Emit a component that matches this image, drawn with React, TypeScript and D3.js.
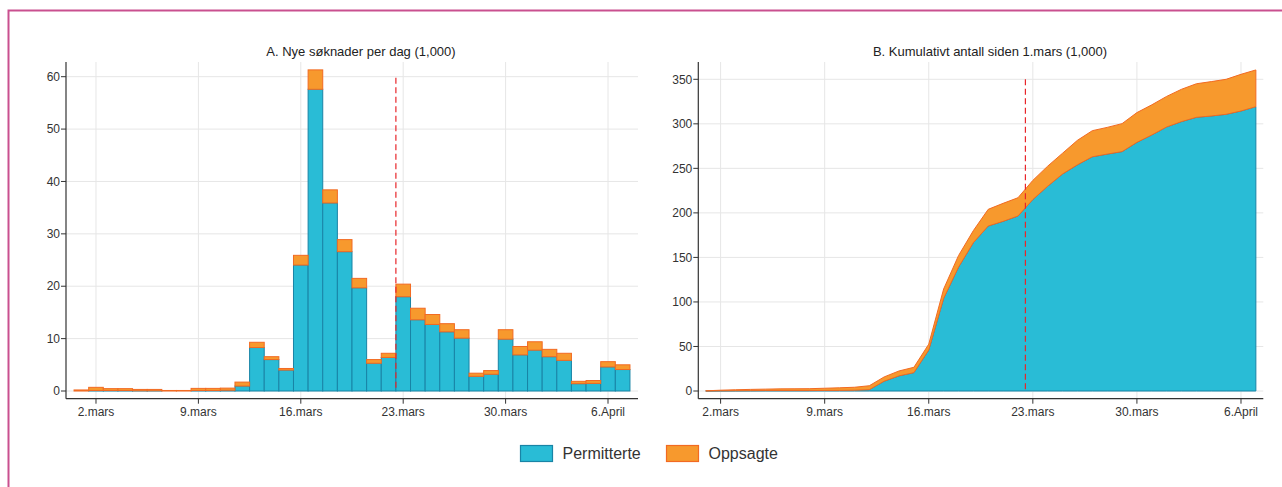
import React from 'react';
import * as d3 from 'd3';

// dager fra 1. mars til 7. april
const days: Date[] = d3.timeDay.range(new Date(2020, 2, 1), new Date(2020, 3, 8));

// A. nye søknader per dag (1,000)
const dailyPermitterte = [
  0, 0.1, 0.1, 0.1, 0.05, 0.05, 0, 0, 0.1, 0.1, 0.15, 0.95, 8.3, 6.0, 4.0, 24.05, 57.6, 35.9, 26.6,
  19.7, 5.3, 6.4, 18.0, 13.6, 12.7, 11.3, 10.1, 2.8, 3.2, 9.9, 6.9, 7.8, 6.55, 5.85, 1.4, 1.45, 4.6, 4.1,
];
const dailyOppsagte = [
  0.2, 0.6, 0.35, 0.35, 0.25, 0.25, 0.1, 0.1, 0.4, 0.4, 0.4, 0.75, 1.0, 0.55, 0.3, 1.85, 3.7, 2.5, 2.3,
  1.8, 0.7, 0.8, 2.4, 2.2, 1.9, 1.55, 1.6, 0.6, 0.7, 1.8, 1.6, 1.6, 1.4, 1.35, 0.45, 0.55, 1.0, 0.9,
];

// B. kumulativt antall siden 1. mars (1,000)
const cumPermitterte = [
  0, 0.2, 0.3, 0.4, 0.5, 0.5, 0.5, 0.5, 0.6, 0.7, 0.9, 1.5, 11, 17, 20.6, 46, 104, 139, 166.6, 185.3,
  190.5, 196.5, 215, 230, 243.7, 254, 263, 266, 268.8, 279.2, 287.5, 296.5, 302.5, 307.3, 308.8, 310.7,
  314.4, 319.3,
];
const cumOppsagte = [
  0.2, 0.7, 1.1, 1.4, 1.6, 1.9, 2.0, 2.1, 2.5, 2.9, 3.3, 4.4, 4.8, 5.5, 6.0, 6.6, 10.5, 13, 13.5, 18.7,
  20.2, 20.5, 21.5, 22.5, 23.3, 27.5, 29.3, 30, 31.4, 33.4, 33.8, 34.3, 36.3, 37.7, 38.6, 39.3, 41.2, 41.2,
];

const yTicksA = [0, 10, 20, 30, 40, 50, 60];
const yTicksB = [0, 50, 100, 150, 200, 250, 300, 350];
const tickDays = [1, 8, 15, 22, 29, 36];
const tickLabels = ['2.mars', '9.mars', '16.mars', '23.mars', '30.mars', '6.April'];
const seriesNames = ['Permitterte', 'Oppsagte'];

const FILL = ['#29bcd6', '#f7992d'];
const STROKE = ['#1984a6', '#f26a22'];
const GRID = '#e6e6e6';
const AXIS = '#333';
const FONT = '"Liberation Sans", Arial, Helvetica, sans-serif';

type Row = { i: number; Permitterte: number; Oppsagte: number };

const rowsA: Row[] = days.map((_, i) => ({ i, Permitterte: dailyPermitterte[i], Oppsagte: dailyOppsagte[i] }));
const rowsB: Row[] = days.map((_, i) => ({ i, Permitterte: cumPermitterte[i], Oppsagte: cumOppsagte[i] }));

const stack = d3.stack<Row>().keys(seriesNames);

const plotTop = 62;
const axisY = 398.7;

function Frame({ x0, x1, y, yTicks, xPos, title, titleX }: {
  x0: number; x1: number; y: d3.ScaleLinear<number, number>; yTicks: number[];
  xPos: (i: number) => number; title: string; titleX: number;
}) {
  return (
    <g>
      {yTicks.map(t => (
        <line key={'gy' + t} x1={x0} x2={x1} y1={y(t)} y2={y(t)} stroke={GRID} strokeWidth={1} />
      ))}
      {tickDays.map(d => (
        <line key={'gx' + d} x1={xPos(d)} x2={xPos(d)} y1={plotTop} y2={axisY} stroke={GRID} strokeWidth={1} />
      ))}
      <text x={titleX} y={56} textAnchor="middle" fontSize={13} fill="#222">{title}</text>
    </g>
  );
}

function Axes({ x0, x1, y, yTicks, xPos }: {
  x0: number; x1: number; y: d3.ScaleLinear<number, number>; yTicks: number[]; xPos: (i: number) => number;
}) {
  return (
    <g>
      <line x1={x0} x2={x0} y1={plotTop} y2={axisY} stroke={AXIS} strokeWidth={1.2} />
      <line x1={x0} x2={x1} y1={axisY} y2={axisY} stroke={AXIS} strokeWidth={1.2} />
      {yTicks.map(t => (
        <g key={'ty' + t}>
          <line x1={x0 - 5} x2={x0} y1={y(t)} y2={y(t)} stroke={AXIS} />
          <text x={x0 - 6} y={y(t)} dy="0.35em" textAnchor="end" fontSize={12} fill="#333">{t}</text>
        </g>
      ))}
      {tickDays.map((d, k) => (
        <g key={'tx' + d}>
          <line x1={xPos(d)} x2={xPos(d)} y1={axisY} y2={axisY + 5} stroke={AXIS} />
          <text x={xPos(d)} y={axisY + 17} textAnchor="middle" fontSize={12} fill="#333">{tickLabels[k]}</text>
        </g>
      ))}
    </g>
  );
}

const App: React.FC = () => {
  // panel A
  const xA = d3.scaleBand<number>().domain(days.map((_, i) => i)).range([66, 638]).paddingInner(0).paddingOuter(0.55);
  const yA = d3.scaleLinear().domain([0, 60]).range([391, 76.7]);
  const stackA = stack(rowsA);
  const bw = xA.bandwidth();
  const xAc = (i: number) => (xA(i) || 0) + bw / 2;
  const cutA = xA(22) || 0;

  // panel B
  const xB = d3.scalePoint<number>().domain(days.map((_, i) => i)).range([698.3, 1263.3]).padding(0.5);
  const yB = d3.scaleLinear().domain([0, 350]).range([391, 79.3]);
  const stackB = stack(rowsB);
  const xBp = (i: number) => xB(i) || 0;
  const cutB = (xBp(21) + xBp(22)) / 2;
  const area = d3.area<d3.SeriesPoint<Row>>()
    .x(d => xBp(d.data.i))
    .y0(d => yB(d[0]))
    .y1(d => yB(d[1]));

  return (
    <div style={{ position: 'absolute', left: 0, top: 0 }}>
      <svg width={1282} height={487} style={{ display: 'block', fontFamily: FONT }}>
        <rect x={0} y={0} width={1282} height={487} fill="#fff" />
        <rect x={8.5} y={10.5} width={1300} height={500} fill="none" stroke="#c9508f" strokeWidth={2} />

        <Frame x0={66} x1={638} y={yA} yTicks={yTicksA} xPos={xAc} title="A. Nye søknader per dag (1,000)" titleX={361} />
        {stackA.map((s, k) => (
          <g key={s.key}>
            {s.map(d => (
              <rect
                key={d.data.i}
                x={xA(d.data.i)}
                width={bw}
                y={yA(d[1])}
                height={Math.max(0, yA(d[0]) - yA(d[1]))}
                fill={FILL[k]}
                stroke={STROKE[k]}
                strokeWidth={1}
              />
            ))}
          </g>
        ))}
        <line x1={cutA} x2={cutA} y1={77.7} y2={391} stroke="#e8262a" strokeWidth={1.2} strokeDasharray="6,3.5" />
        <Axes x0={66} x1={638} y={yA} yTicks={yTicksA} xPos={xAc} />

        <Frame x0={698.3} x1={1263.3} y={yB} yTicks={yTicksB} xPos={xBp} title="B. Kumulativt antall siden 1.mars (1,000)" titleX={990} />
        {stackB.map((s, k) => (
          <path key={s.key} d={area(s) || ''} fill={FILL[k]} stroke={STROKE[k]} strokeWidth={1} strokeLinejoin="round" />
        ))}
        <line x1={cutB} x2={cutB} y1={79.3} y2={391} stroke="#e8262a" strokeWidth={1.2} strokeDasharray="6,3.5" />
        <Axes x0={698.3} x1={1263.3} y={yB} yTicks={yTicksB} xPos={xBp} />

        {seriesNames.map((name, k) => (
          <g key={name} transform={`translate(${k === 0 ? 520 : 666},445)`}>
            <rect x={0.5} y={0.5} width={32} height={16} fill={FILL[k]} stroke={STROKE[k]} strokeWidth={1.2} />
            <text x={42.5} y={14} fontSize={16} fill="#333">{name}</text>
          </g>
        ))}
      </svg>
    </div>
  );
};

export default App;
